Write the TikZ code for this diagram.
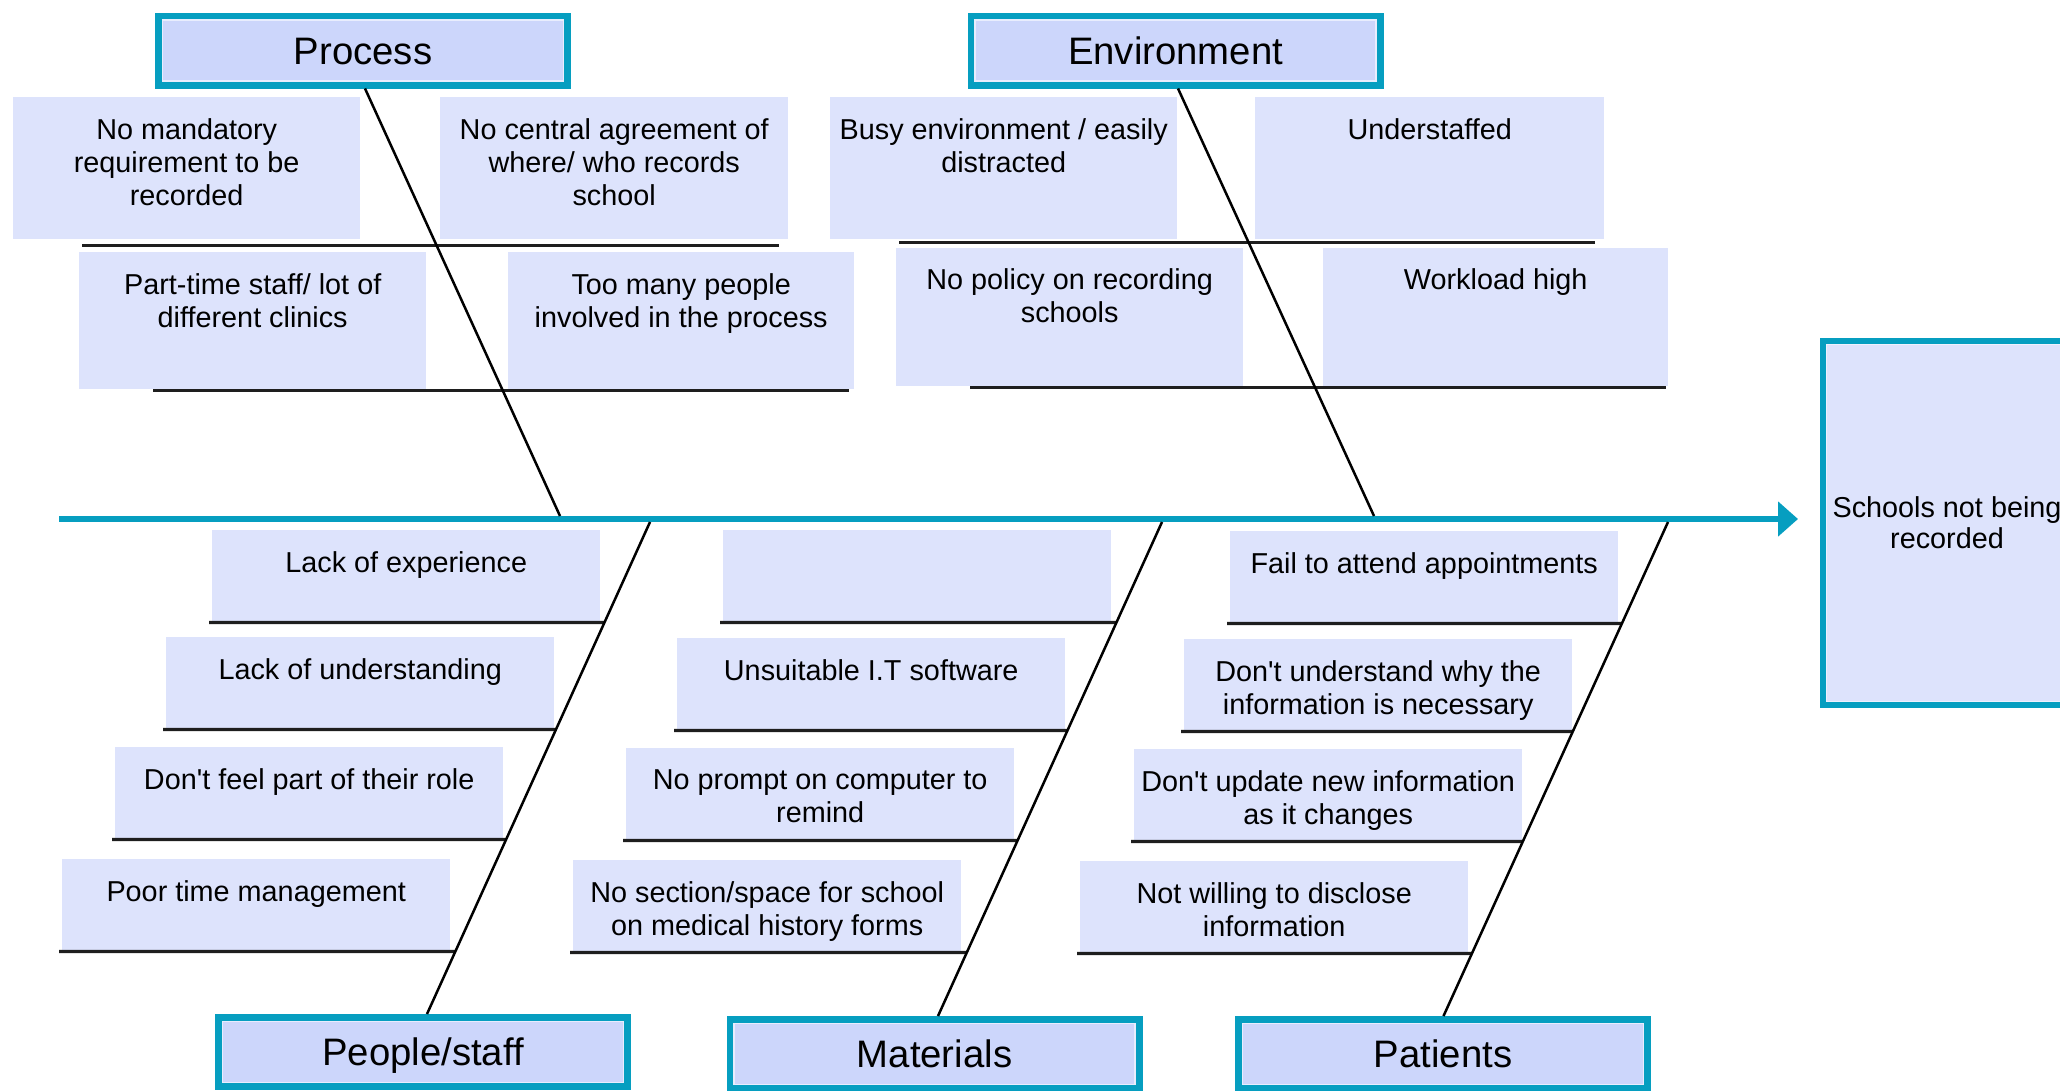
\documentclass[tikz,border=0pt]{standalone}
\usepackage{fontspec}
\setmainfont{Liberation Sans}
\usetikzlibrary{arrows.meta,calc}

\definecolor{fbTeal}{RGB}{6,158,192}
\definecolor{fbTitle}{RGB}{204,214,251}
\definecolor{fbCause}{RGB}{221,227,252}
\definecolor{fbRule}{RGB}{30,30,30}

\tikzset{
  titlebox/.style={draw=fbTeal, line width=7pt, fill=fbTitle, inner sep=0pt,
    minimum width=409pt, minimum height=69pt,
    text height=27.6pt, text depth=0pt,
    font=\fontsize{38.3}{44}\selectfont},
  effectbox/.style={draw=fbTeal, line width=6pt, fill=fbCause, inner sep=0pt,
    minimum width=248pt, minimum height=364pt, align=center,
    font=\fontsize{28.8}{31}\selectfont},
  causebox/.style={fill=fbCause, draw=none, inner sep=0pt, anchor=north west},
  lowbox/.style={causebox, minimum width=388pt, minimum height=92pt},
  causetext/.style={anchor=north, align=center, inner sep=0pt,
    font=\fontsize{28.8}{33}\selectfont},
  bone/.style={line width=2.5pt, black},
  rule/.style={line width=3.2pt, fbRule},
  spine/.style={line width=6.5pt, fbTeal, -{Triangle[length=20pt,width=34pt]}},
  innerline/.style={line width=1.3pt, white!55!fbTitle}
}

\begin{document}
\begin{tikzpicture}[x=1pt, y=-1pt]
\useasboundingbox (0,0) rectangle (2060,1090);

% ---------- category heads ----------
\node[titlebox] (proc) at (363,50.5) {Process};
\node[titlebox] (env)  at (1175.5,50.5) {Environment};
\node[titlebox] (ppl)  at (423,1052) {People/staff};
\node[titlebox] (mat)  at (934.5,1054) {Materials};
\node[titlebox] (pat)  at (1443,1054) {Patients};
\foreach \t in {proc,env,ppl,mat,pat}
  \draw[innerline] ([shift={(7.5pt,-7.5pt)}]\t.north west) rectangle ([shift={(-7.5pt,7.5pt)}]\t.south east);

% ---------- effect ----------
\node[effectbox] (eff) at (1947,523) {Schools not being\\recorded};
\draw[innerline, white!50!fbCause] ([shift={(6.5pt,-6.5pt)}]eff.north west) rectangle ([shift={(-6.5pt,6.5pt)}]eff.south east);

% ---------- spine ----------
\coordinate (spL) at (59,519);
\draw[spine, shorten >=22pt] (spL) -- (spL -| eff.west);

% ---------- bone end points on the spine ----------
\coordinate (prE) at (560,516);
\coordinate (enE) at (1374,516);
\coordinate (pS) at (650,522);
\coordinate (mS) at (1162,522);
\coordinate (tS) at (1668,522);
\coordinate (prT) at ([xshift=2pt]proc.south);
\coordinate (enT) at ([xshift=2.5pt]env.south);
\coordinate (pT) at ([xshift=4pt]ppl.north);
\coordinate (mT) at ([xshift=3.5pt]mat.north);
\coordinate (tT) at ([xshift=0.5pt]pat.north);

% ---------- Process causes ----------
\node[causebox, minimum width=347pt, minimum height=142pt] (pa) at (13,97) {};
\node[causebox, minimum width=348pt, minimum height=142pt] (pb) at (440,97) {};
\node[causebox, minimum width=347pt, minimum height=137pt] (pc) at (79,252) {};
\node[causebox, minimum width=346pt, minimum height=137pt] (pd) at (508,252) {};
\node[causetext] (pat1) at ([yshift=-21pt]pa.north) {No mandatory\\requirement to be\\recorded};
\node[causetext] (pbt1) at ([yshift=-21pt]pb.north) {No central agreement of\\where/ who records\\school};
\node[causetext] (pct1) at ([yshift=-21pt]pc.north) {Part-time staff/ lot of\\different clinics};
\node[causetext] (pdt1) at ([yshift=-21pt]pd.north) {Too many people\\involved in the process};
\draw[rule] ([shift={(69,6)}]pa.south west) -- ([shift={(-9,6)}]pb.south east);
\draw[rule] ([shift={(74,1)}]pc.south west) -- ([shift={(-5,1)}]pd.south east);

% ---------- Environment causes ----------
\node[causebox, minimum width=347pt, minimum height=142pt] (ea) at (830,97) {};
\node[causebox, minimum width=349pt, minimum height=142pt] (eb) at (1255,97) {};
\node[causebox, minimum width=347pt, minimum height=138pt] (ec) at (896,248) {};
\node[causebox, minimum width=345pt, minimum height=138pt] (ed) at (1323,248) {};
\node[causetext] (eat) at ([yshift=-21pt]ea.north) {Busy environment / easily\\distracted};
\node[causetext] (ebt) at ([yshift=-21pt]eb.north) {Understaffed};
\node[causetext] (ect) at ([yshift=-20pt]ec.north) {No policy on recording\\schools};
\node[causetext] (edt) at ([yshift=-20pt]ed.north) {Workload high};
\draw[rule] ([shift={(69,3)}]ea.south west) -- ([shift={(-9,3)}]eb.south east);
\draw[rule] ([shift={(74,1)}]ec.south west) -- ([shift={(-2,1)}]ed.south east);

% ---------- People/staff causes ----------
\node[lowbox] (s1) at (212,530) {};
\node[lowbox] (s2) at (166,637) {};
\node[lowbox] (s3) at (115,747) {};
\node[lowbox] (s4) at (62,859) {};
\node[causetext] (s1t) at ([yshift=-21pt]s1.north) {Lack of experience};
\node[causetext] (s2t) at ([yshift=-21pt]s2.north) {Lack of understanding};
\node[causetext] (s3t) at ([yshift=-21pt]s3.north) {Don\textquotesingle t feel part of their role};
\node[causetext] (s4t) at ([yshift=-21pt]s4.north) {Poor time management};
\foreach \b in {s1,s2,s3,s4}
  \draw[rule] ([xshift=-3pt]\b.south west) -- (intersection cs: first line={(\b.south west)--(\b.south east)}, second line={(pS)--(pT)});

% ---------- Materials causes ----------
\node[lowbox] (m1) at (723,530) {};
\node[lowbox] (m2) at (677,638) {};
\node[lowbox] (m3) at (626,748) {};
\node[lowbox] (m4) at (573,860) {};
\node[causetext] (m2t) at ([yshift=-21pt]m2.north) {Unsuitable I.T software};
\node[causetext] (m3t) at ([yshift=-21pt]m3.north) {No prompt on computer to\\remind};
\node[causetext] (m4t) at ([yshift=-21pt]m4.north) {No section/space for school\\on medical history forms};
\foreach \b in {m1,m2,m3,m4}
  \draw[rule] ([xshift=-3pt]\b.south west) -- (intersection cs: first line={(\b.south west)--(\b.south east)}, second line={(mS)--(mT)});

% ---------- Patients causes ----------
\node[lowbox] (t1) at (1230,531) {};
\node[lowbox] (t2) at (1184,639) {};
\node[lowbox] (t3) at (1134,749) {};
\node[lowbox] (t4) at (1080,861) {};
\node[causetext] (t1t) at ([yshift=-21pt]t1.north) {Fail to attend appointments};
\node[causetext] (t2t) at ([yshift=-21pt]t2.north) {Don\textquotesingle t understand why the\\information is necessary};
\node[causetext] (t3t) at ([yshift=-21pt]t3.north) {Don\textquotesingle t update new information\\as it changes};
\node[causetext] (t4t) at ([yshift=-21pt]t4.north) {Not willing to disclose\\information};
\foreach \b in {t1,t2,t3,t4}
  \draw[rule] ([xshift=-3pt]\b.south west) -- (intersection cs: first line={(\b.south west)--(\b.south east)}, second line={(tS)--(tT)});

% ---------- bones ----------
\draw[bone] (prT) -- (prE);
\draw[bone] (enT) -- (enE);
\draw[bone] (pS) -- (pT);
\draw[bone] (mS) -- (mT);
\draw[bone] (tS) -- (tT);
\end{tikzpicture}
\end{document}
